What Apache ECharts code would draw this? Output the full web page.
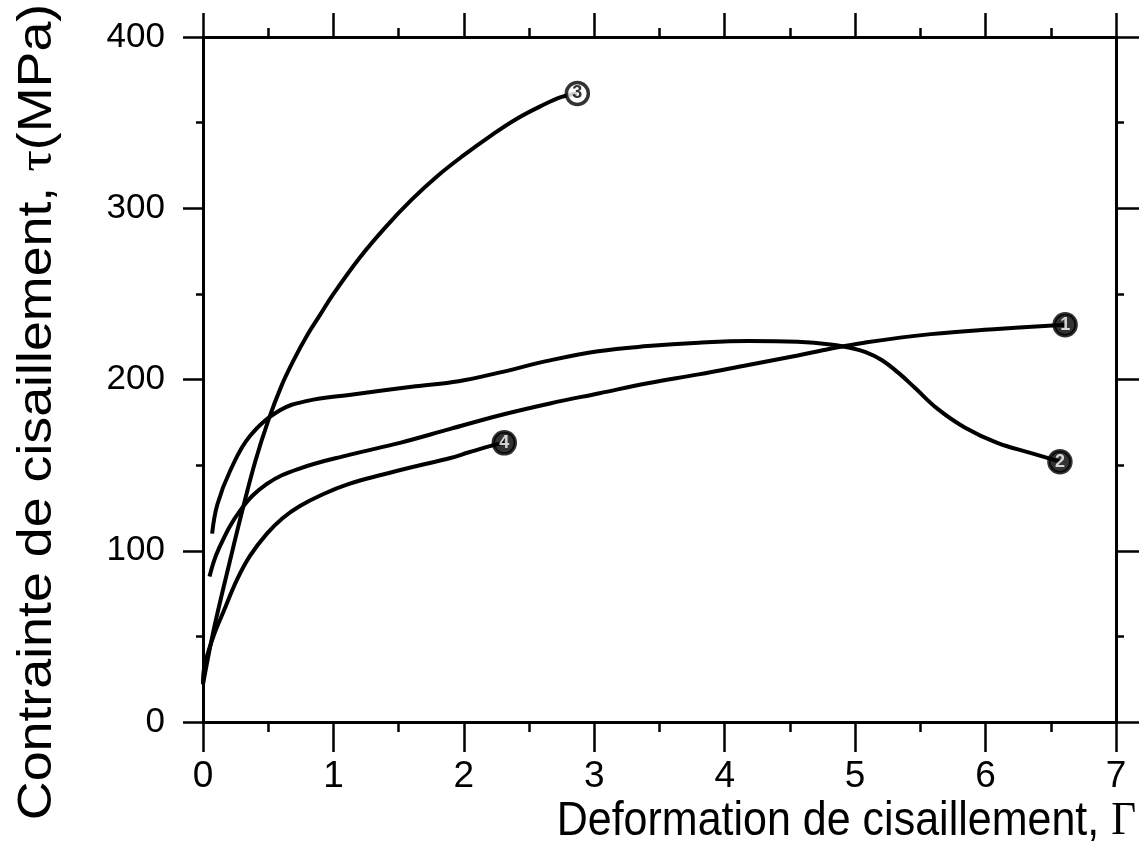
<!DOCTYPE html>
<html>
<head>
<meta charset="utf-8">
<style>
  html, body { margin: 0; padding: 0; background: #fff; }
  #chart { width: 1144px; height: 854px; }
</style>
<script src="https://cdn.jsdelivr.net/npm/echarts@6/dist/echarts.min.js"></script>
</head>
<body>
<div id="chart"></div>
<script>
// Shear strain Γ (x) and shear stress τ in MPa (y) for the four tests
const curve1 = [[0.05,85],[0.12,101],[0.29,124],[0.49,139],[0.74,148],[1.12,156],[1.51,163],[1.89,171],[2.27,179],[2.66,186],[3.04,192],[3.42,198],[3.80,203],[4.18,208.5],[4.56,214],[4.81,218],[5.07,221.5],[5.58,226.5],[6.09,229.5],[6.61,232]];
const curve2 = [[0.07,110],[0.11,127],[0.21,147],[0.36,167],[0.59,182],[0.80,187.5],[1.12,191],[1.63,196],[1.96,199],[2.27,204],[2.65,211],[3.03,216.5],[3.41,219.5],[3.80,221.5],[4.18,222.5],[4.56,222],[4.81,220.5],[4.96,218.5],[5.08,216],[5.20,211.5],[5.33,204],[5.46,195],[5.63,183],[5.84,172],[6.09,163],[6.35,157],[6.57,152]];
const curve3 = [[0,22],[0.05,42],[0.1,60],[0.2,92],[0.3,123],[0.4,152],[0.5,176],[0.6,196],[0.7,212],[0.8,226],[0.9,238],[1.0,250],[1.2,271],[1.4,289],[1.6,305],[1.8,319],[2.0,331],[2.2,342],[2.4,352],[2.6,360],[2.75,365],[2.87,367]];
const curve4 = [[0,22],[0.01,32],[0.08,50],[0.16,65],[0.26,83],[0.36,97],[0.49,110],[0.61,119],[0.74,126],[0.92,133],[1.12,139],[1.38,144.5],[1.64,149.5],[1.89,154],[2.04,157.5],[2.22,161.5],[2.31,163]];
const curveLabels = ['1', '2', '3', '4'];
const xTicks = [0, 7, 1];      // min, max, step of Γ
const yTicks = [0, 400, 100];  // min, max, step of τ

const curves = [curve1, curve2, curve3, curve4];
const FONT = '"Liberation Sans", Arial, Helvetica, sans-serif';
const SERIF = '"Liberation Serif", "DejaVu Serif", serif';
const INK = '#000';

const chart = echarts.init(document.getElementById('chart'), null, { renderer: 'canvas' });

function frameAxis(extra) {
  return Object.assign({
    type: 'value',
    axisLine: { show: true, onZero: false, lineStyle: { color: INK, width: 3 } },
    splitLine: { show: false },
    minorSplitLine: { show: false }
  }, extra);
}

function ticks(len, minorLen) {
  return {
    axisTick: { show: true, inside: false, length: len, lineStyle: { color: INK, width: 2.5 } },
    minorTick: { show: true, splitNumber: 2, length: minorLen, lineStyle: { color: INK, width: 2.5 } }
  };
}

const lineSeries = curves.map((c, i) => ({
  type: 'line',
  name: curveLabels[i],
  data: c,
  smooth: 0.4,
  symbol: 'none',
  lineStyle: { color: INK, width: 4 },
  z: 3,
  animation: false
}));

// circled curve numbers at the end of each curve
const markerSeries = {
  type: 'scatter',
  data: curves.map((c, i) => {
    const last = c[c.length - 1];
    const open = curveLabels[i] === '3';
    return {
      value: last,
      itemStyle: { color: open ? '#fff' : INK, borderColor: INK, borderWidth: 3.5 },
      label: {
        show: true,
        position: 'inside',
        formatter: curveLabels[i],
        color: open ? INK : '#fff',
        fontFamily: FONT,
        fontWeight: 'bold',
        fontSize: 18
      }
    };
  }),
  symbol: 'circle',
  symbolSize: 22,
  z: 5,
  animation: false
};

chart.setOption({
  backgroundColor: '#fff',
  animation: false,
  grid: { left: 203, right: 28, top: 37, bottom: 132, containLabel: false },
  xAxis: [
    frameAxis(Object.assign({
      position: 'bottom',
      min: xTicks[0], max: xTicks[1], interval: xTicks[2],
      axisLabel: { show: true, margin: 36, color: INK, fontFamily: FONT, fontSize: 37 }
    }, ticks(30, 10))),
    frameAxis(Object.assign({
      position: 'top',
      min: xTicks[0], max: xTicks[1], interval: xTicks[2],
      axisLabel: { show: false }
    }, ticks(24, 9)))
  ],
  yAxis: [
    frameAxis(Object.assign({
      position: 'left',
      min: yTicks[0], max: yTicks[1], interval: yTicks[2],
      axisLabel: { show: true, margin: 38, color: INK, fontFamily: FONT, fontSize: 35 }
    }, ticks(20, 7))),
    frameAxis(Object.assign({
      position: 'right',
      min: yTicks[0], max: yTicks[1], interval: yTicks[2],
      axisLabel: { show: false }
    }, ticks(23, 8)))
  ],
  series: lineSeries.concat([markerSeries]),
  graphic: [
    {
      type: 'text',
      x: 1136,
      y: 822,
      scaleY: 1.1,
      style: {
        text: '{t|Deformation de cisaillement, }{g|Γ}',
        align: 'right',
        verticalAlign: 'middle',
        fill: INK,
        rich: {
          t: { fontFamily: FONT, fontSize: 43, fill: INK },
          g: { fontFamily: SERIF, fontSize: 43, fill: INK }
        }
      }
    },
    {
      type: 'text',
      x: 38,
      y: 412,
      rotation: Math.PI / 2,
      scaleX: 1.12,
      style: {
        text: '{t|Contrainte de cisaillement, }{g|τ}{t|(MPa)}',
        align: 'center',
        verticalAlign: 'middle',
        fill: INK,
        rich: {
          t: { fontFamily: FONT, fontSize: 48, fill: INK },
          g: { fontFamily: SERIF, fontSize: 48, fill: INK }
        }
      }
    }
  ]
});
</script>
</body>
</html>
